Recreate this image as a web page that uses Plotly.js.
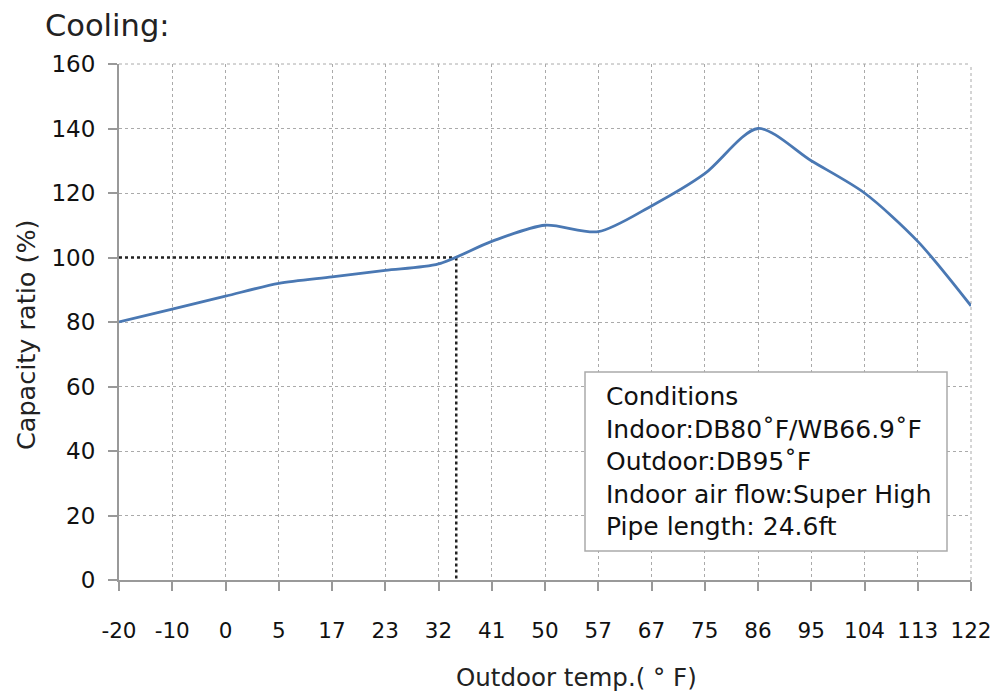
<!DOCTYPE html>
<html>
<head>
<meta charset="utf-8">
<script src="https://cdn.plot.ly/plotly-3.0.1.min.js"></script>
<style>html,body{margin:0;padding:0;background:#fff;}#chart{width:995px;height:696px;}</style>
</head>
<body>
<div id="chart"></div>
<script>
// Outdoor temperature categories (°F), evenly spaced on the chart
const tempLabels = ["-20","-10","0","5","17","23","32","41","50","57","67","75","86","95","104","113","122"];
const tempValues = [-20,-10,0,5,17,23,32,41,50,57,67,75,86,95,104,113,122];
// Capacity ratio (%) at each category
const capacityRatio = [80,84,88,92,94,96,98,105,110,108,116,126,140,130,120,105,85];
// Reference point marked by dotted lines
const refTemp = 35;
const refRatio = 100;

const idx = tempLabels.map((_, i) => i);
// position of the reference temperature on the evenly spaced category scale
function catPos(t) {
  for (let i = 0; i < tempValues.length - 1; i++) {
    if (t >= tempValues[i] && t <= tempValues[i + 1]) {
      return i + (t - tempValues[i]) / (tempValues[i + 1] - tempValues[i]);
    }
  }
  return 0;
}
const refPos = catPos(refTemp);

const FONT = "DejaVu Sans, Liberation Sans, sans-serif";

const traces = [
  {
    x: [0, refPos], y: [refRatio, refRatio], mode: "lines",
    line: {color: "#222", width: 2.5, dash: "dot"}, hoverinfo: "skip", showlegend: false
  },
  {
    x: [refPos, refPos], y: [refRatio, 0], mode: "lines",
    line: {color: "#222", width: 2.5, dash: "dot"}, hoverinfo: "skip", showlegend: false
  },
  {
    x: idx, y: capacityRatio, mode: "lines",
    line: {color: "#4a78b3", width: 2.8, shape: "spline", smoothing: 0.8},
    showlegend: false
  }
];

const annLeft = 585, annTop = 372, annRight = 947, annBottom = 551;
const plotL = 119, plotR = 971, plotT = 64, plotB = 580;
const px = v => (v - plotL) / (plotR - plotL);
const py = v => (plotB - v) / (plotB - plotT);

const layout = {
  width: 995, height: 696,
  margin: {l: plotL, r: 995 - plotR, t: plotT, b: 696 - plotB},
  paper_bgcolor: "#fff", plot_bgcolor: "#fff",
  font: {family: FONT, color: "#111", size: 22},
  title: {text: "Cooling:", x: 45 / 995, xanchor: "left", y: 1 - 25 / 696, yanchor: "middle",
          font: {family: FONT, size: 30.5, color: "#222"}},
  xaxis: {
    range: [0, 16], tickmode: "array", tickvals: idx, ticktext: tempLabels,
    showgrid: true, gridcolor: "#aaa", griddash: "dot", gridwidth: 1,
    showline: true, linecolor: "#999", linewidth: 2,
    ticks: "outside", ticklen: 9, tickwidth: 2, tickcolor: "#999",
    ticklabelstandoff: 21,
    tickfont: {family: FONT, size: 21.5, color: "#111"},
    zeroline: false
  },
  yaxis: {
    range: [0, 160], dtick: 20,
    showgrid: true, gridcolor: "#aaa", griddash: "dot", gridwidth: 1,
    showline: true, linecolor: "#999", linewidth: 2,
    ticks: "outside", ticklen: 9, tickwidth: 2, tickcolor: "#999",
    ticklabelstandoff: 8,
    tickfont: {family: FONT, size: 23, color: "#111"},
    zeroline: false
  },
  shapes: [
    {type: "line", xref: "paper", yref: "paper", x0: 1, x1: 1, y0: 0, y1: 1,
     line: {color: "#aaa", width: 1, dash: "dot"}, layer: "below"},
    {type: "line", xref: "paper", yref: "paper", x0: 0, x1: 1, y0: 1, y1: 1,
     line: {color: "#aaa", width: 1, dash: "dot"}, layer: "below"},
    {type: "rect", xref: "paper", yref: "paper",
     x0: px(annLeft), x1: px(annRight), y0: py(annBottom), y1: py(annTop),
     fillcolor: "#fff", line: {color: "#aaa", width: 1.5}, layer: "above"}
  ],
  annotations: [
    {xref: "paper", yref: "paper", x: px(604), y: py(380), xanchor: "left", yanchor: "top",
     align: "left", showarrow: false,
     text: "Conditions<br>Indoor:DB80˚F/WB66.9˚F<br>Outdoor:DB95˚F<br>Indoor air flow:Super High<br>Pipe length: 24.6ft",
     font: {family: FONT, size: 25, color: "#111"}},
    {xref: "paper", yref: "paper", x: px(576), y: py(677), xanchor: "center", yanchor: "middle",
     showarrow: false, text: "Outdoor temp.( ° F)",
     font: {family: FONT, size: 24.5, color: "#222"}},
    {xref: "paper", yref: "paper", x: px(26), y: py(335), xanchor: "center", yanchor: "middle",
     showarrow: false, textangle: -90, text: "Capacity ratio (%)",
     font: {family: FONT, size: 25.5, color: "#222"}}
  ]
};

Plotly.newPlot("chart", traces, layout, {displayModeBar: false, staticPlot: true});
</script>
</body>
</html>
